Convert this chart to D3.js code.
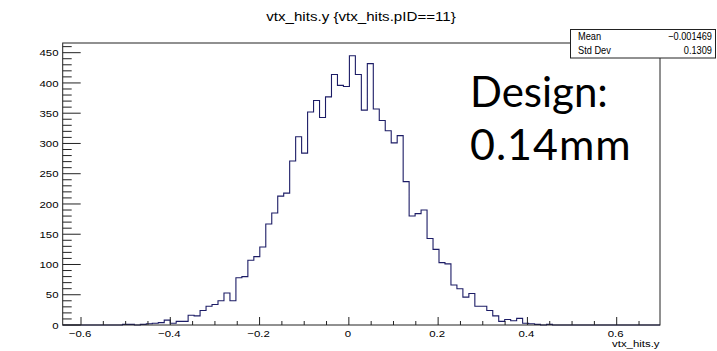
<!DOCTYPE html>
<html>
<head>
<meta charset="utf-8">
<script src="https://cdn.jsdelivr.net/npm/d3@7"></script>
<style>
  html, body { margin: 0; padding: 0; background: #fff; }
  svg { display: block; }
  .root { font-family: "Liberation Sans", Arial, Helvetica, sans-serif; fill: #000; }
</style>
</head>
<body>
<svg id="chart" width="717" height="351"></svg>
<script>
// ---------- data ----------
const title = "vtx_hits.y {vtx_hits.pID==11}";
const xAxisTitle = "vtx_hits.y";
const xRange = [-0.641, 0.697];          // histogram range (100 bins)
const nBins = 100;
const binCounts = [
  0, 0, 0, 0, 0, 0, 0, 0, 0, 0,
  1, 1, 0, 1, 2, 3, 4, 8, 3, 6,
  6, 16, 15, 24, 31, 34, 40, 53, 40, 78,
  80, 107, 113, 129, 167, 185, 213, 218, 271, 311,
  284, 352, 371, 343, 377, 414, 396, 394, 445, 414,
  355, 432, 357, 338, 321, 301, 313, 237, 180, 184,
  190, 143, 125, 103, 101, 66, 60, 46, 52, 31,
  31, 24, 15, 6, 9, 7, 11, 3, 2, 1,
  0, 1, 0, 0, 0, 0, 0, 0, 0, 0,
  0, 0, 0, 0, 0, 0, 0, 0, 0, 0
];
const yMax = 466;
const yMajorTicks = [0, 50, 100, 150, 200, 250, 300, 350, 400, 450];
const yTickLabels = ["0", "50", "100", "150", "200", "250", "300", "350", "400", "450"];
const xMajorTicks = [-0.6, -0.4, -0.2, 0, 0.2, 0.4, 0.6];
const xTickLabels = ["\u22120.6", "\u22120.4", "\u22120.2", "0", "0.2", "0.4", "0.6"];
const statsLabels = ["Mean", "Std Dev"];
const statsValues = ["\u22120.001469", "0.1309"];
const noteLines = ["Design:", "0.14mm"];

// ---------- layout ----------
const W = 717, H = 351;
const frame = { left: 62.7, right: 660, top: 43, bottom: 325 };
const sx = 1.2; // horizontal stretch of the ROOT canvas text

const svg = d3.select("#chart");
svg.append("rect").attr("width", W).attr("height", H).attr("fill", "#fff");

const x = d3.scaleLinear().domain(xRange).range([frame.left, frame.right]);
const y = d3.scaleLinear().domain([0, yMax]).range([frame.bottom, frame.top]);

const binW = (xRange[1] - xRange[0]) / nBins;

// histogram step outline
const pts = [];
binCounts.forEach((c, i) => {
  const x0 = xRange[0] + i * binW, x1 = x0 + binW;
  pts.push([x0, c], [x1, c]);
});
const line = d3.line().x(d => x(d[0])).y(d => y(d[1]));
svg.append("path")
  .attr("d", line(pts))
  .attr("fill", "none")
  .attr("stroke", "#1c1c66")
  .attr("stroke-width", 1.1);

// frame
svg.append("rect")
  .attr("x", frame.left).attr("y", frame.top)
  .attr("width", frame.right - frame.left).attr("height", frame.bottom - frame.top)
  .attr("fill", "none").attr("stroke", "#222").attr("stroke-width", 1);

// y ticks
const yMinor = d3.range(0, 47).map(k => k * 10).filter(v => v <= yMax && v % 50 !== 0);
const gy = svg.append("g").attr("stroke", "#222").attr("stroke-width", 1);
yMajorTicks.forEach(v => {
  gy.append("line").attr("x1", frame.left).attr("x2", frame.left + 18)
    .attr("y1", y(v)).attr("y2", y(v));
});
yMinor.forEach(v => {
  gy.append("line").attr("x1", frame.left).attr("x2", frame.left + 9)
    .attr("y1", y(v)).attr("y2", y(v));
});
yMajorTicks.forEach((v, i) => {
  svg.append("text").attr("class", "root")
    .attr("transform", `translate(58.5,${y(v) + 3.6}) scale(${sx},1)`)
    .attr("text-anchor", "end")
    .attr("font-size", 9.5)
    .text(yTickLabels[i]);
});

// x ticks
const xMinor = d3.range(-13, 15).map(k => k * 0.05)
  .filter(v => Math.abs(Math.round(v * 100) % 20) !== 0)
  .filter(v => v >= xRange[0] && v <= xRange[1]);
const gx = svg.append("g").attr("stroke", "#222").attr("stroke-width", 1);
xMajorTicks.forEach(v => {
  gx.append("line").attr("x1", x(v)).attr("x2", x(v))
    .attr("y1", frame.bottom).attr("y2", frame.bottom - 8);
});
xMinor.forEach(v => {
  gx.append("line").attr("x1", x(v)).attr("x2", x(v))
    .attr("y1", frame.bottom).attr("y2", frame.bottom - 4);
});
xMajorTicks.forEach((v, i) => {
  svg.append("text").attr("class", "root")
    .attr("transform", `translate(${x(v) - 1},336.5) scale(${sx},1)`)
    .attr("text-anchor", "middle")
    .attr("font-size", 9.5)
    .text(xTickLabels[i]);
});

// axis title
svg.append("text").attr("class", "root")
  .attr("transform", `translate(${frame.right - 0.5},347) scale(${sx},1)`)
  .attr("text-anchor", "end")
  .attr("font-size", 9.5)
  .text(xAxisTitle);

// title
svg.append("text").attr("class", "root")
  .attr("transform", `translate(361,21) scale(${sx},1)`)
  .attr("text-anchor", "middle")
  .attr("font-size", 12.6)
  .text(title);

// stats box
const box = { x: 570.5, y: 29.5, w: 145, h: 28.5 };
svg.append("rect")
  .attr("x", box.x).attr("y", box.y).attr("width", box.w).attr("height", box.h)
  .attr("fill", "#fff").attr("stroke", "#222").attr("stroke-width", 1);
const statsBase = [40, 54];
const ssx = 0.88;
statsLabels.forEach((s, i) => {
  svg.append("text").attr("class", "root")
    .attr("transform", `translate(578,${statsBase[i]}) scale(${ssx},1)`)
    .attr("font-size", 10.5)
    .text(s);
  svg.append("text").attr("class", "root")
    .attr("transform", `translate(712,${statsBase[i]}) scale(${ssx},1)`)
    .attr("text-anchor", "end")
    .attr("font-size", 10.5)
    .text(statsValues[i]);
});

// overlay annotation
const noteBase = [107, 160];
const noteSize = [42, 43];
noteLines.forEach((s, i) => {
  svg.append("text")
    .attr("x", 470).attr("y", noteBase[i])
    .attr("font-family", "Lato, 'Open Sans', sans-serif")
    .attr("font-size", noteSize[i])
    .attr("letter-spacing", i === 1 ? 1 : 0)
    .attr("fill", "#000")
    .text(s);
});
</script>
</body>
</html>
